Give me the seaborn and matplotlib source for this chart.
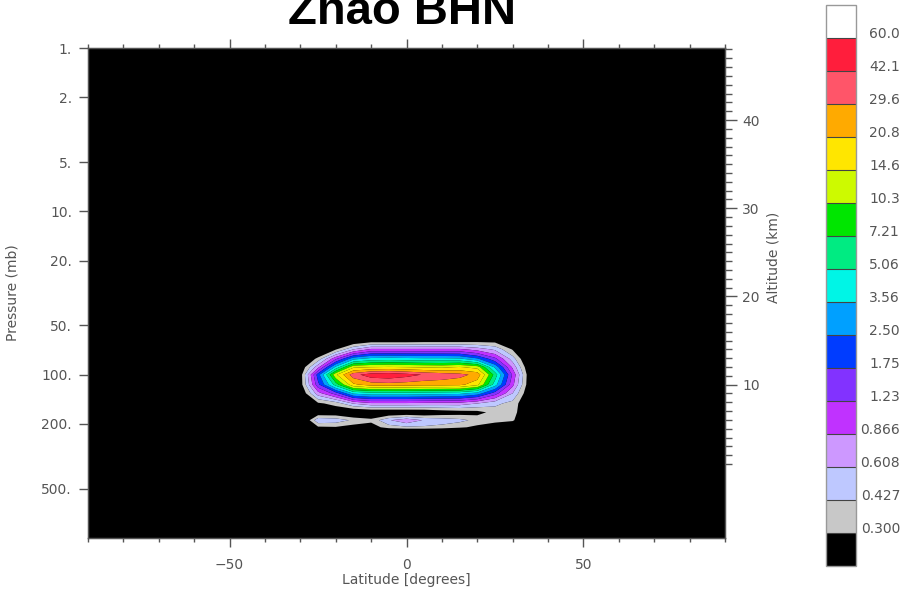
import numpy as np
import pandas as pd
import matplotlib
matplotlib.use("Agg")
import matplotlib.pyplot as plt
import seaborn as sns
from matplotlib.ticker import FixedLocator, NullLocator, MultipleLocator, NullFormatter

sns.set_style("ticks")
plt.rcParams['font.family'] = ['DejaVu Sans']

# ---------------- data ----------------
latitudes = [-35, -30, -25, -20, -15, -10, -5, 0, 5, 10, 15, 20, 25, 30, 35, 40]
pressures = [50, 60, 70, 80, 90, 100, 115, 130, 150, 170, 190, 210, 240]

row_p50 = [0.05, 0.05, 0.05, 0.05, 0.05, 0.05, 0.05, 0.05, 0.05, 0.05, 0.05, 0.05, 0.05, 0.05, 0.05, 0.05]
row_p60 = [0.073, 0.104, 0.104, 0.148, 0.148, 0.170, 0.170, 0.170, 0.177, 0.177, 0.177, 0.196, 0.211, 0.177, 0.104, 0.073]
row_p70 = [0.073, 0.104, 0.148, 0.289, 0.61, 0.929, 0.929, 0.929, 0.929, 0.929, 0.929, 0.752, 0.567, 0.289, 0.124, 0.073]
row_p80 = [0.073, 0.148, 0.345, 1.15, 3.20, 4.10, 4.25, 4.10, 3.96, 3.96, 3.82, 2.68, 1.37, 0.510, 0.159, 0.073]
row_p90 = [0.073, 0.211, 0.779, 3.96, 13.6, 14.7, 15.2, 14.7, 14.1, 13.6, 15.2, 12.7, 3.32, 0.807, 0.190, 0.073]
row_p100 = [0.073, 0.243, 2.10, 13.6, 36.7, 52.3, 56.1, 48.7, 40.8, 36.7, 33.0, 26.7, 6.27, 1.15, 0.211, 0.073]
row_p115 = [0.073, 0.243, 1.58, 6.05, 19.4, 24.9, 25.8, 24.9, 24.0, 24.0, 23.2, 16.3, 4.25, 0.960, 0.211, 0.073]
row_p130 = [0.073, 0.196, 0.752, 1.47, 3.82, 4.40, 4.40, 4.40, 4.25, 4.10, 3.96, 3.09, 1.47, 0.61, 0.196, 0.073]
row_p150 = [0.073, 0.148, 0.279, 0.345, 0.630, 0.807, 0.807, 0.807, 0.779, 0.752, 0.752, 0.61, 0.475, 0.371, 0.190, 0.073]
row_p170 = [0.073, 0.104, 0.211, 0.211, 0.177, 0.190, 0.190, 0.190, 0.196, 0.226, 0.243, 0.260, 0.345, 0.345, 0.196, 0.073]
row_p190 = [0.073, 0.148, 0.567, 0.528, 0.398, 0.333, 0.587, 0.807, 0.587, 0.528, 0.475, 0.384, 0.345, 0.322, 0.148, 0.073]
row_p210 = [0.073, 0.104, 0.279, 0.289, 0.251, 0.243, 0.358, 0.398, 0.398, 0.371, 0.322, 0.270, 0.226, 0.177, 0.104, 0.073]
row_p240 = [0.05, 0.05, 0.05, 0.05, 0.05, 0.05, 0.05, 0.05, 0.05, 0.05, 0.05, 0.05, 0.05, 0.05, 0.05, 0.05]

level_bounds = [0.300, 0.427, 0.608, 0.866, 1.23, 1.75, 2.50, 3.56, 5.06, 7.21,
                10.3, 14.6, 20.8, 29.6, 42.1, 60.0]
level_labels = ['0.300', '0.427', '0.608', '0.866', '1.23', '1.75', '2.50', '3.56',
                '5.06', '7.21', '10.3', '14.6', '20.8', '29.6', '42.1', '60.0']
level_colors = ['#000000', '#c8c8c8', '#bec8ff', '#cd98ff', '#c032ff', '#8232ff',
                '#003cff', '#00a0ff', '#00f5e6', '#00eb82', '#00e600', '#cdfa00',
                '#ffe600', '#ffaa00', '#ff5569', '#ff1e3c', '#ffffff']

pressure_ticks = [1, 2, 5, 10, 20, 50, 100, 200, 500]
pressure_labels = ['1.', '2.', '5.', '10.', '20.', '50.', '100.', '200.', '500.']
lat_ticks = [-50, 0, 50]
lat_labels = ['\u221250', '0', '50']
alt_ticks = [10, 20, 30, 40]
alt_minor = [a for a in range(1, 49) if a % 10 != 0]

# ---------------- figure ----------------
rows = [row_p50, row_p60, row_p70, row_p80, row_p90, row_p100, row_p115,
        row_p130, row_p150, row_p170, row_p190, row_p210, row_p240]
df = pd.DataFrame(rows, index=pressures, columns=latitudes)

fig = plt.figure(figsize=(9.04, 5.96), dpi=100)
ax = fig.add_axes([88 / 904, 1 - 538 / 596, 637 / 904, 490 / 596])
ax.set_facecolor('black')

levels = [-10.0] + list(np.log10(level_bounds)) + [10.0]
cs = ax.contourf(df.columns.values, df.index.values, np.log10(df.values),
                 levels=levels, colors=level_colors, antialiased=True)

tc = '#555555'
fs = 10
ax.set_yscale('log')
ax.set_ylim(1000, 1)
ax.set_xlim(-90, 90)
ax.yaxis.set_major_locator(FixedLocator(pressure_ticks))
ax.yaxis.set_minor_locator(NullLocator())
ax.set_yticklabels(pressure_labels)
ax.xaxis.set_major_locator(FixedLocator(lat_ticks))
ax.xaxis.set_minor_locator(MultipleLocator(10))
ax.set_xticklabels(lat_labels)
ax.tick_params(axis='x', which='both', top=True, bottom=True, direction='out',
               color=tc, labelcolor=tc, labelsize=fs)
ax.tick_params(axis='x', which='major', length=6.5, width=1, pad=8.0)
ax.tick_params(axis='x', which='minor', length=2.9, width=1)
ax.tick_params(axis='y', which='major', left=True, right=False, direction='out',
               length=6.5, width=1, pad=5, color=tc, labelcolor=tc, labelsize=fs)
for s in ax.spines.values():
    s.set_color(tc)
    s.set_linewidth(1)

ax.set_xlabel('Latitude [degrees]', color=tc, fontsize=fs)
ax.xaxis.set_label_coords(0.5, -0.0715)
ax.set_ylabel('Pressure (mb)', color=tc, fontsize=fs)
ax.yaxis.set_label_coords(-0.1068, 0.5)

# altitude axis (right)
def z2p(z):
    return 10 ** ((48.17 - np.asarray(z, dtype=float)) / 18.52)

ax2 = ax.twinx()
ax2.set_yscale('log')
ax2.set_ylim(1000, 1)
ax2.yaxis.set_major_locator(FixedLocator(z2p(alt_ticks)))
ax2.set_yticklabels([str(a) for a in alt_ticks])
ax2.yaxis.set_minor_locator(FixedLocator(z2p(alt_minor)))
ax2.yaxis.set_minor_formatter(NullFormatter())
ax2.tick_params(axis='y', which='both', right=True, direction='out', color=tc,
                labelcolor=tc, labelsize=fs, width=1)
ax2.tick_params(axis='y', which='major', length=8.6, pad=3.6)
ax2.tick_params(axis='y', which='minor', length=5)
ax2.set_ylabel('Altitude (km)', color=tc, fontsize=fs)
ax2.yaxis.set_label_coords(1.0644, 0.5735)
for s in ax2.spines.values():
    s.set_color(tc)

# colorbar
cax = fig.add_axes([826 / 904, 1 - 566 / 596, 30 / 904, 561 / 596])
cb = fig.colorbar(cs, cax=cax, spacing='uniform', ticks=levels[1:-1], drawedges=True)
cb.ax.set_yticklabels(level_labels)
cb.ax.yaxis.set_minor_locator(NullLocator())
cb.ax.tick_params(length=0, pad=31.7, labelsize=fs, labelcolor=tc)
for t in cb.ax.get_yticklabels():
    t.set_horizontalalignment('right')
    t.set_verticalalignment('baseline')
cb.outline.set_edgecolor('#999999')
cb.outline.set_linewidth(1)
cb.dividers.set_color('#444444')
cb.dividers.set_linewidth(0.8)

fig.text(402 / 904, 1 - 24 / 596, 'Zhao BHN', ha='center', va='baseline',
         fontsize=34, fontweight='bold', family=['Liberation Sans', 'DejaVu Sans'],
         color='black')

fig.savefig('out.png', dpi=100)
